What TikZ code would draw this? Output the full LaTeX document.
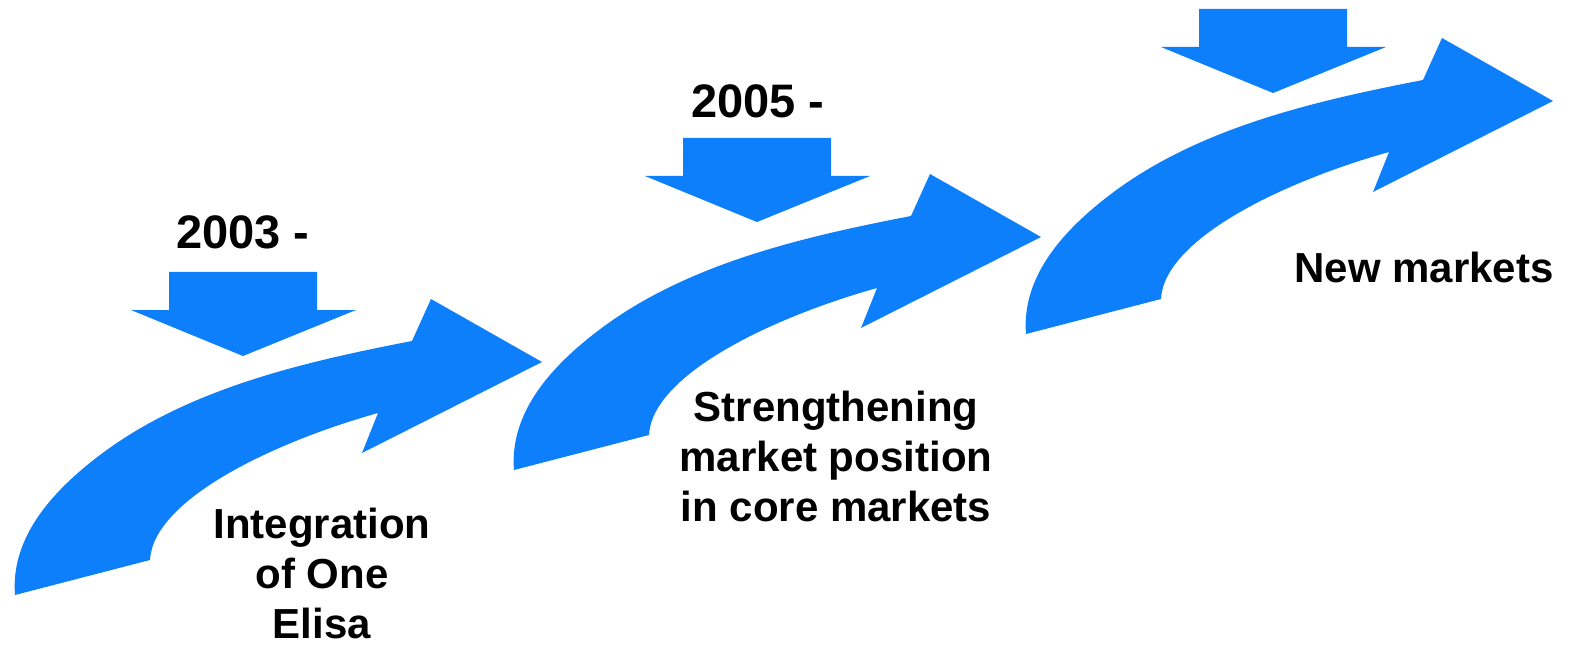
\documentclass[tikz,border=0pt]{standalone}
\usepackage{fontspec}
\setmainfont{Liberation Sans}
\definecolor{arrowblue}{HTML}{0D7FFB}
\begin{document}
\begin{tikzpicture}[x=1pt,y=-1pt,
  shapefill/.style={fill=arrowblue},
  yearlabel/.style={font=\fontsize{47}{52}\selectfont\bfseries, inner sep=0pt, anchor=base},
  steplabel/.style={font=\fontsize{42}{50}\selectfont\bfseries, inner sep=0pt, anchor=base, align=center},
  curvarrow/.pic={
    \fill[shapefill] (15,595) .. controls (10.2,535) and (56.2,488.2) .. (100,455)
      .. controls (187.7,388.6) and (304,361.9) .. (412,341)
      -- (431,299) -- (542,362) -- (362,453) -- (378,413)
      .. controls (272,442.7) and (153,500) .. (150,560) -- cycle;
  },
  downarrow/.pic={
    \fill[shapefill] (-74,-84) -- (74,-84) -- (74,-46) -- (113,-46) -- (0,0)
      -- (-112,-46) -- (-74,-46) -- cycle;
  }]
\useasboundingbox (0,0) rectangle (1572,647);
% curved arrows
\pic at (0,0) {curvarrow};
\pic at (499,-125) {curvarrow};
\pic at (1011,-261) {curvarrow};
% down arrows
\pic at (243,356) {downarrow};
\pic at (757,222) {downarrow};
\pic at (1273,93) {downarrow};
% labels (base = baseline of the last line)
\node[yearlabel] (y2003) at (243,248) {2003 -};
\node[yearlabel] (y2005) at (758,118) {2005 -};
\node[steplabel] (integ) at (322,638) {Integration\\of One\\Elisa};
\node[steplabel] (streng) at (836,521) {Strengthening\\market position\\in core markets};
\node[steplabel] (newm) at (1424,282) {New markets};
\end{tikzpicture}
\end{document}
